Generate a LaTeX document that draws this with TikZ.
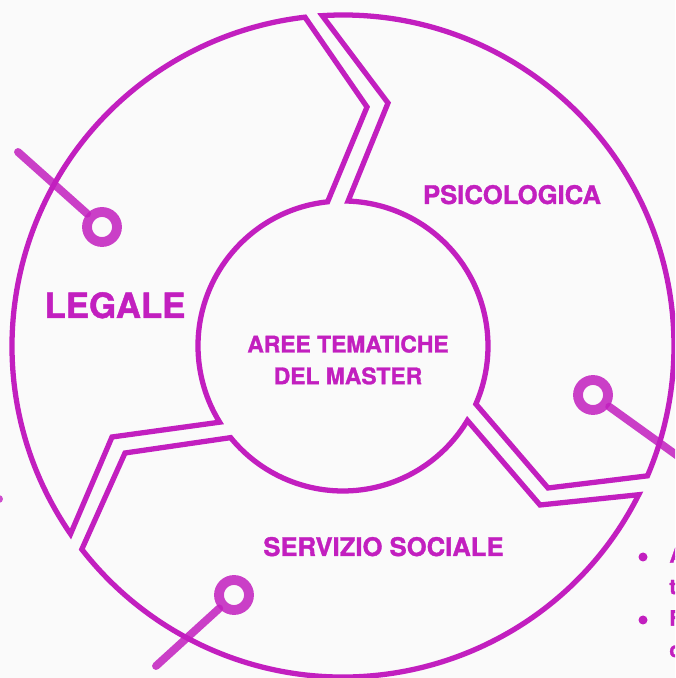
\documentclass[tikz,border=0pt]{standalone}
\usepackage{fontspec}
\setmainfont{TeX Gyre Heros}[BoldFeatures={FakeBold=1.3}]
\usetikzlibrary{calc}
\definecolor{viola}{HTML}{C21FBF}
\begin{document}
\begin{tikzpicture}[x=0.02cm,y=0.02cm,
  bordo/.style={draw=viola,line width=3pt},
  spillo/.style={draw=viola,opacity=0.85,line width=4.5pt,line cap=round},
  anello/.style={circle,draw=viola,opacity=0.85,line width=5.6pt,minimum size=0.6cm,inner sep=0pt},
  voce/.style={text=viola,font=\bfseries\fontsize{14.6}{17}\selectfont}]
\useasboundingbox (0,0) rectangle (675,678);
\clip (0,0) rectangle (675,678);
\fill[black!2] (0,0) rectangle (675,678);
\coordinate (O) at (343,332);
\draw[bordo] (O) ++(214.6:331) arc[start angle=214.6,end angle=96.6,radius=331] -- (367,571)
  -- ($(O)+(96.1:145)$) arc[start angle=96.1,end angle=211.7,radius=145] -- (112,241) -- cycle;
\draw[bordo] (O) ++(93.6:331) arc[start angle=93.6,end angle=-23.1,radius=331] -- (548,190)
  -- ($(O)+(-23.6:145)$) arc[start angle=-23.6,end angle=88,radius=145] -- (388,575) -- cycle;
\draw[bordo] (O) ++(-26.7:331) arc[start angle=-26.7,end angle=-142.1,radius=331] -- (125,225)
  -- ($(O)+(-140.8:145)$) arc[start angle=-140.8,end angle=-30.9,radius=145] -- (540,173) -- cycle;
\coordinate (capo1) at (18,526);
\coordinate (capo2) at (700,206);
\coordinate (capo3) at (156,12);
\node[anello] (anello1) at (102,451) {};
\node[anello] (anello2) at (593,283) {};
\node[anello] (anello3) at (234,83) {};
\draw[spillo] (capo1) -- (anello1);
\draw[spillo] (capo2) -- (anello2);
\draw[spillo] (capo3) -- (anello3);
\node[voce,font=\bfseries\fontsize{19.8}{24}\selectfont,anchor=base] (legale) at (115,360) {LEGALE};
\node[voce,anchor=base] (psicologica) at (512,474) {PSICOLOGICA};
\node[voce,anchor=base] (servizio) at (383.5,122) {SERVIZIO SOCIALE};
\node[voce,font=\bfseries\fontsize{13}{18.1}\selectfont,align=center] (centro) at (348,318) {AREE TEMATICHE\\DEL MASTER};
\fill[viola] (643,121) circle[radius=4.5];
\fill[viola] (643,58) circle[radius=4.5];
\node[text=viola,font=\bfseries\fontsize{12}{17.9}\selectfont,anchor=north west,inner sep=0pt,align=left] (elenco) at (669,131)
  {A\\t\\F\\c};
\fill[viola!80] (-1,179) circle[radius=4];
\end{tikzpicture}
\end{document}
